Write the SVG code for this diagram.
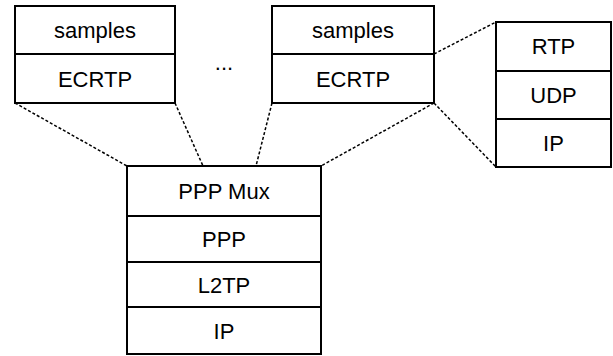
<svg xmlns="http://www.w3.org/2000/svg" width="613" height="356" viewBox="0 0 613 356">
<style>
.box{fill:#fff;stroke:#000;stroke-width:2}
.div{stroke:#000;stroke-width:2}
.t{font-family:"Liberation Sans",Arial,sans-serif;font-size:22px;text-anchor:middle;fill:#000}
.dash{stroke:#000;stroke-width:1.5;stroke-dasharray:3 2;fill:none}
</style>
<rect width="613" height="356" fill="#fff"/>
<g id="connectors">
<line class="dash" x1="15" y1="103" x2="127" y2="166"/>
<line class="dash" x1="175" y1="103" x2="203" y2="166"/>
<line class="dash" x1="272" y1="103" x2="256" y2="166"/>
<line class="dash" x1="434" y1="103" x2="321" y2="166"/>
<line class="dash" x1="434" y1="54" x2="496" y2="22"/>
<line class="dash" x1="434" y1="103" x2="496" y2="167"/>
</g>
<g id="stack-left">
<rect class="box" x="15" y="6" width="160" height="97"/>
<line class="div" x1="15" y1="54" x2="175" y2="54"/>
<text class="t" x="95" y="37.5">samples</text>
<text class="t" x="95" y="86.5">ECRTP</text>
</g>
<g id="ellipsis">
<text class="t" x="224" y="70">...</text>
</g>
<g id="stack-right">
<rect class="box" x="272" y="6" width="162" height="97"/>
<line class="div" x1="272" y1="54" x2="434" y2="54"/>
<text class="t" x="353" y="37.5">samples</text>
<text class="t" x="353" y="86.5">ECRTP</text>
</g>
<g id="stack-rtp">
<rect class="box" x="496" y="22" width="115" height="145"/>
<line class="div" x1="496" y1="71" x2="611" y2="71"/>
<line class="div" x1="496" y1="119" x2="611" y2="119"/>
<text class="t" x="553.5" y="54">RTP</text>
<text class="t" x="553.5" y="102.5">UDP</text>
<text class="t" x="553.5" y="150.5">IP</text>
</g>
<g id="stack-bottom">
<rect class="box" x="127" y="166" width="194" height="188"/>
<line class="div" x1="127" y1="216" x2="321" y2="216"/>
<line class="div" x1="127" y1="262" x2="321" y2="262"/>
<line class="div" x1="127" y1="307" x2="321" y2="307"/>
<text class="t" x="224" y="199">PPP Mux</text>
<text class="t" x="224" y="246.5">PPP</text>
<text class="t" x="224" y="292.5">L2TP</text>
<text class="t" x="224" y="338.5">IP</text>
</g>
</svg>
